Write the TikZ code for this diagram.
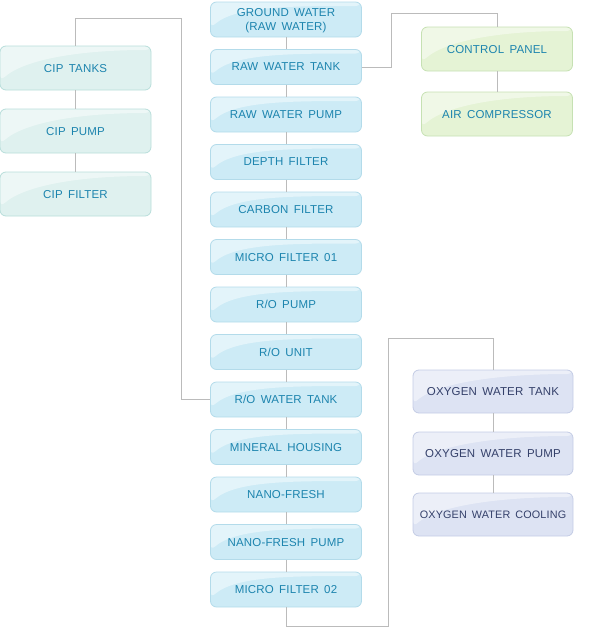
\documentclass[tikz,border=0pt]{standalone}
\usepackage{fontspec}
\newfontfamily\boxfont{Liberation Sans}[LetterSpace=1.5,WordSpace=1.6]
\usetikzlibrary{calc}

\definecolor{blueFill}{HTML}{CDEBF6}
\definecolor{blueLine}{HTML}{B3DBEA}
\definecolor{tealFill}{HTML}{DFF1EF}
\definecolor{tealLine}{HTML}{B8DEDA}
\definecolor{greenFill}{HTML}{E5F3D5}
\definecolor{greenLine}{HTML}{C6E1B3}
\definecolor{lilacFill}{HTML}{DDE3F3}
\definecolor{lilacLine}{HTML}{C4CCE5}
\definecolor{stepText}{HTML}{1C84AE}
\definecolor{oxyText}{HTML}{34406A}
\definecolor{wire}{HTML}{BBBBBB}

\tikzset{
  box/.style={rounded corners=6pt,draw=#1Line,fill=#1Fill,line width=.8pt,
    minimum width=151pt,minimum height=35pt,align=center,text=stepText,
    text depth=0pt,font=\boxfont\fontsize{11.5}{13.5}\selectfont,
    path picture={
      \fill[white,opacity=.45] (path picture bounding box.north west)
        -- ([yshift=9pt]path picture bounding box.south west)
        .. controls +(25pt,22pt) and +(-70pt,0pt) ..
        ([yshift=-4pt]path picture bounding box.north east)
        -- (path picture bounding box.north east) -- cycle;}},
  oxybox/.style={box=lilac,minimum height=43pt,minimum width=160pt,
    inner xsep=0pt,text=oxyText},
  flow/.style={draw=wire,line width=.8pt},
}

\begin{document}
\begin{tikzpicture}[x=1pt,y=-1pt]
\useasboundingbox (0,0) rectangle (600,635);

% main line
\node[box=blue] (gw)   at (286,19.5)  {GROUND WATER\\(RAW WATER)};
\node[box=blue] (rwt)  at (286,67)    {RAW WATER TANK};
\node[box=blue] (rwp)  at (286,114.5) {RAW WATER PUMP};
\node[box=blue] (df)   at (286,162)   {DEPTH FILTER};
\node[box=blue] (cf)   at (286,209.5) {CARBON FILTER};
\node[box=blue] (mfa)  at (286,257)   {MICRO FILTER 01};
\node[box=blue] (rop)  at (286,304.5) {R/O PUMP};
\node[box=blue] (rou)  at (286,352)   {R/O UNIT};
\node[box=blue] (rowt) at (286,399.5) {R/O WATER TANK};
\node[box=blue] (mh)   at (286,447)   {MINERAL HOUSING};
\node[box=blue] (nf)   at (286,494.5) {NANO-FRESH};
\node[box=blue] (nfp)  at (286,542)   {NANO-FRESH PUMP};
\node[box=blue] (mfb)  at (286,589.5) {MICRO FILTER 02};

% cleaning
\node[box=teal,minimum height=44pt] (cipt) at (75.5,68)  {CIP TANKS};
\node[box=teal,minimum height=44pt] (cipp) at (75.5,131) {CIP PUMP};
\node[box=teal,minimum height=44pt] (cipf) at (75.5,194) {CIP FILTER};

% control
\node[box=green,minimum height=44pt] (cp) at (497,49)  {CONTROL PANEL};
\node[box=green,minimum height=44pt] (ac) at (497,114) {AIR COMPRESSOR};

% oxygen
\node[oxybox] (owt) at (493,391.5) {OXYGEN WATER TANK};
\node[oxybox] (owp) at (493,453.5) {OXYGEN WATER PUMP};
\node[oxybox,font=\boxfont\fontsize{10.8}{13}\selectfont] (owc) at (493,514.5) {OXYGEN WATER COOLING};

\coordinate (cipTop) at (181,18);
\coordinate (ctlTop) at (391,13);
\coordinate (oxyLow) at (388,626);
\coordinate (oxyMid) at (388,338);

\draw[flow] (gw) -- (rwt) -- (rwp) -- (df) -- (cf) -- (mfa) -- (rop)
  -- (rou) -- (rowt) -- (mh) -- (nf) -- (nfp) -- (mfb);
\draw[flow] (cipt) -- (cipp) -- (cipf);
\draw[flow] (cp) -- (ac);
\draw[flow] (owt) -- (owp) -- (owc);

\draw[flow] (cipt.north) |- (cipTop) |- (rowt.west);
\draw[flow] (rwt.east) -| (ctlTop) -| (cp.north);
\draw[flow] (mfb.south) |- (oxyLow) -- (oxyMid) -| (owt.north);

\end{tikzpicture}
\end{document}
